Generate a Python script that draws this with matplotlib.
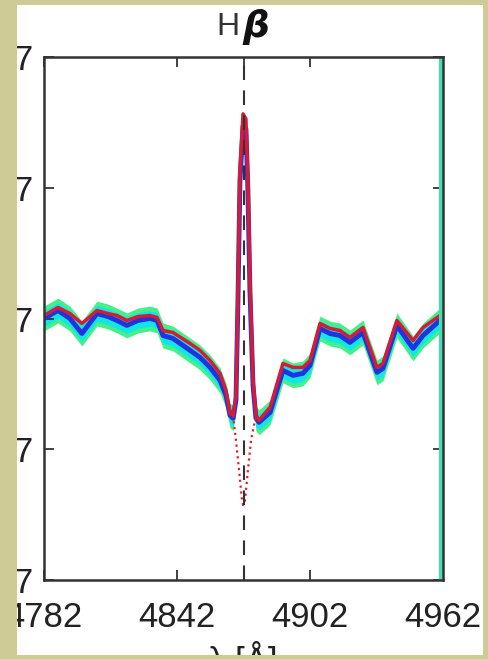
import numpy as np
import matplotlib
matplotlib.use("Agg")
import matplotlib.pyplot as plt
from matplotlib.patches import Rectangle

plt.rcParams['font.family'] = ['Liberation Sans', 'DejaVu Sans']

# wavelength grid [A] and fluxes (arbitrary units)
wave = [4782.0, 4788.3, 4793.7, 4799.1, 4805.9, 4810.9, 4814.9, 4819.4, 4824.4,
        4829.8, 4833.0, 4835.7, 4840.2, 4847.9, 4852.4, 4856.9, 4861.4, 4864.1,
        4865.9, 4867.3, 4868.6, 4869.5, 4870.4, 4871.8, 4873.1, 4874.0, 4874.9,
        4876.3, 4877.6, 4879.0, 4884.0, 4889.8, 4894.3, 4898.8, 4902.0, 4906.5,
        4911.0, 4915.5, 4920.0, 4925.9, 4932.2, 4934.9, 4941.2, 4948.5, 4953.0,
        4960.6, 4962.0]
model = [2.023, 2.084, 2.038, 1.962, 2.061, 2.038, 2.023, 1.985, 2.015,
         2.023, 2.008, 1.908, 1.893, 1.809, 1.756, 1.679, 1.580, 1.450,
         1.275, 1.260, 1.412, 2.214, 3.130, 3.565, 3.527, 3.053, 2.290,
         1.527, 1.260, 1.221, 1.321, 1.656, 1.626, 1.626, 1.679, 1.962,
         1.924, 1.908, 1.855, 1.931, 1.626, 1.656, 1.985, 1.832, 1.931,
         2.023, 2.023]
obs = [2.000, 2.061, 2.000, 1.885, 2.038, 2.015, 1.985, 1.947, 1.985,
       2.000, 1.985, 1.870, 1.847, 1.756, 1.702, 1.626, 1.527, 1.412,
       1.260, 1.237, 1.374, 2.137, 3.053, 3.473, 3.450, 2.977, 2.214,
       1.489, 1.237, 1.206, 1.282, 1.603, 1.565, 1.580, 1.641, 1.924,
       1.885, 1.870, 1.817, 1.893, 1.588, 1.618, 1.947, 1.771, 1.870,
       1.985, 2.000]
err_outer = 0.095
err_inner = 0.06

# absorption-only profile under the line
abs_wave = [4867.3, 4868.6, 4870.0, 4871.3, 4871.8, 4872.7, 4874.0, 4875.4, 4877.6]
abs_flux = [1.260, 1.069, 0.840, 0.611, 0.573, 0.611, 0.840, 1.069, 1.260]

line_center = 4872
xticks = [4782, 4842, 4872, 4902, 4962]
xticklabels = ['4782', '4842', '', '4902', '4962']
yticks = [0, 1, 2, 3, 4]
yticklabels = ['7', '7', '7', '7', '7']

khaki = '#cfcb97'
fig = plt.figure(figsize=(4.89, 6.59), dpi=100, facecolor='white')
ax = fig.add_axes([44/489, 1 - 580/659, 399/489, 523/659])

w = np.array(wave)
o = np.array(obs)
ax.fill_between(w, o - err_outer, o + err_outer, color='#45f08a', lw=0)
ax.fill_between(w, o - err_inner, o + err_inner, color='#10e6e6', lw=0)
ax.plot(wave, obs, color='#2233dd', lw=3.5)
ax.plot(wave, model, color='#d81b35', lw=2.5)
ax.plot(abs_wave, abs_flux, color='#e02030', lw=1.6, ls=':')
ax.axvline(line_center, color='#333333', lw=1.5, ls=(0, (7, 5)))
ax.axvline(4961.3, color='#40e0b0', lw=3)

ax.set_xlim(4782, 4962)
ax.set_ylim(0, 4)
ax.set_xticks(xticks)
ax.set_xticklabels(xticklabels)
ax.set_yticks(yticks)
ax.set_yticklabels(yticklabels)
ax.tick_params(direction='in', length=7, width=1.3, color='#333333',
               top=True, right=True, labelsize=25, labelcolor='#222222', pad=15)
ax.tick_params(axis='y', pad=8)
for s in ax.spines.values():
    s.set_color('#333333')
    s.set_linewidth(1.8)

# title H beta
fig.text(240/489, 1 - 35/659, 'H', ha='right', va='baseline', fontsize=23,
         color='#333333')
fig.text(242/489, 1 - 37/659, 'β', ha='left', va='baseline', fontsize=27,
         fontweight='bold', style='italic', color='#111111',
         family='DejaVu Sans')
fig.text(243/489, 1 - 641/659, 'λ [Å]', ha='center', va='top', fontsize=25,
         color='#222222')

# scanned page border
for r in [(0, 0, 17/489, 1), (483/489, 0, 6/489, 1),
          (0, 0, 1, 4/659), (0, 1 - 5/659, 1, 5/659)]:
    fig.add_artist(Rectangle((r[0], r[1]), r[2], r[3], transform=fig.transFigure,
                             facecolor=khaki, edgecolor='none', zorder=10))

fig.savefig('out.png', dpi=100, facecolor=fig.get_facecolor())
